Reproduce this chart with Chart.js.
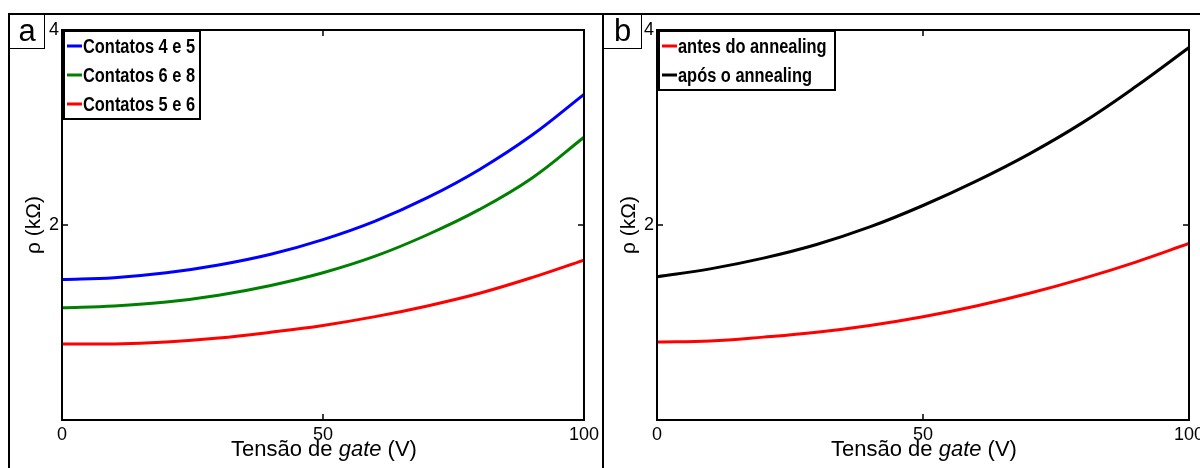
<!DOCTYPE html>
<html>
<head>
<title>Resistividade vs tensão de gate</title>
<script src="https://cdn.jsdelivr.net/npm/chart.js"></script>
<style>
    body { margin: 0; background: #fff; font-family: "Liberation Sans", Arial, sans-serif; }
    #fig { position: relative; width: 1200px; height: 468px; overflow: hidden; }
    .frame { position: absolute; border-left: 2px solid #000; border-top: 2px solid #000; }
    .tag { position: absolute; border: 1.5px solid #000; border-left: none; border-top: none;
           font-size: 31px; line-height: 31px; text-align: center; background: #fff; z-index: 3; }
    .xtitle { position: absolute; top: 436px; font-size: 22px; white-space: nowrap; transform: translateX(-50%); z-index: 3; }
    canvas { position: absolute; top: 0; z-index: 2; }
</style>
</head>
<body>
<div id="fig">
    <div class="frame" style="left:8px;top:13px;width:1200px;height:470px"></div>
    <div class="frame" style="left:602px;top:13px;width:600px;height:470px"></div>
    <div class="tag" style="left:10px;top:15px;width:34px;height:33px">a</div>
    <div class="tag" style="left:604px;top:15px;width:37px;height:33px">b</div>
    <div class="xtitle" style="left:324px">Tensão de <i>gate</i> (V)</div>
    <div class="xtitle" style="left:924px">Tensão de <i>gate</i> (V)</div>
    <canvas id="chartA" width="603" height="468" style="left:0"></canvas>
    <canvas id="chartB" width="620" height="468" style="left:603px"></canvas>
</div>
<script>
// gate voltage (V)
var gate = [0, 10, 20, 30, 40, 50, 60, 70, 80, 90, 100];

// panel a, rho in kOhm
var contatos45 = [1.44, 1.46, 1.51, 1.59, 1.70, 1.85, 2.04, 2.28, 2.57, 2.92, 3.34];
var contatos68 = [1.15, 1.17, 1.21, 1.28, 1.38, 1.51, 1.68, 1.90, 2.16, 2.48, 2.90];
var contatos56 = [0.78, 0.78, 0.80, 0.84, 0.90, 0.97, 1.06, 1.17, 1.30, 1.46, 1.64];

// panel b, rho in kOhm
var antes = [0.80, 0.81, 0.85, 0.90, 0.97, 1.06, 1.17, 1.30, 1.45, 1.62, 1.81];
var apos  = [1.47, 1.55, 1.66, 1.80, 1.98, 2.20, 2.45, 2.73, 3.05, 3.42, 3.82];

var xTicks = [0, 50, 100];
var yTicks = [2, 4];

var sans = '"Liberation Sans", Arial, sans-serif';

function points(ys) {
    return gate.map(function(x, i) { return {x: x, y: ys[i]}; });
}

function series(label, ys, color) {
    return {
        label: label,
        data: points(ys),
        borderColor: color,
        backgroundColor: color,
        borderWidth: 3,
        pointRadius: 0,
        tension: 0.4,
        fill: false
    };
}

// box around the plot, inward ticks and the legend in the top-left corner
var boxPlugin = {
    id: 'box',
    afterDatasetsDraw: function(chart, args, opts) {
        var ctx = chart.ctx, a = chart.chartArea;
        var xs = chart.scales.x, ys = chart.scales.y;
        ctx.save();
        ctx.strokeStyle = '#000';
        ctx.lineWidth = 2;
        ctx.strokeRect(a.left, a.top, a.right - a.left, a.bottom - a.top);
        ctx.lineWidth = 1.5;
        ctx.beginPath();
        xTicks.forEach(function(v) {
            var px = xs.getPixelForValue(v);
            ctx.moveTo(px, a.bottom); ctx.lineTo(px, a.bottom - 6);
            ctx.moveTo(px, a.top); ctx.lineTo(px, a.top + 6);
        });
        yTicks.forEach(function(v) {
            var py = ys.getPixelForValue(v);
            ctx.moveTo(a.left, py); ctx.lineTo(a.left + 6, py);
            ctx.moveTo(a.right, py); ctx.lineTo(a.right - 6, py);
        });
        ctx.stroke();

        // legend (condensed bold text)
        var sets = chart.data.datasets;
        var bx = a.left + 2, by = a.top + 1, rowH = 29;
        var bh = sets.length * rowH + 1;
        ctx.fillStyle = '#fff';
        ctx.fillRect(bx, by, opts.width, bh);
        ctx.lineWidth = 2;
        ctx.strokeRect(bx, by, opts.width, bh);
        ctx.font = 'bold 20px ' + sans;
        ctx.textBaseline = 'middle';
        sets.forEach(function(ds, i) {
            var cy = by + 15 + i * rowH;
            ctx.strokeStyle = ds.borderColor;
            ctx.lineWidth = 3;
            ctx.beginPath();
            ctx.moveTo(bx + 3, cy); ctx.lineTo(bx + 18, cy);
            ctx.stroke();
            ctx.fillStyle = '#000';
            ctx.save();
            ctx.translate(bx + 19, cy + 1);
            ctx.scale(0.82, 1);
            ctx.fillText(ds.label, 0, 0);
            ctx.restore();
        });
        ctx.restore();
    }
};

function makeChart(id, datasets, yWidth, padRight, legendWidth, titlePad) {
    return new Chart(document.getElementById(id), {
        type: 'line',
        data: { datasets: datasets },
        plugins: [boxPlugin],
        options: {
            responsive: false,
            animation: false,
            layout: { padding: { left: 0, right: padRight, top: 30, bottom: 0 } },
            plugins: {
                legend: { display: false },
                tooltip: { enabled: false },
                box: { width: legendWidth }
            },
            scales: {
                x: {
                    type: 'linear',
                    min: 0, max: 100,
                    afterBuildTicks: function(s) { s.ticks = xTicks.map(function(v) { return {value: v}; }); },
                    afterFit: function(s) { s.height = 48; },
                    grid: { display: false, drawTicks: false },
                    border: { display: false },
                    ticks: { color: '#000', padding: 4, maxRotation: 0,
                             font: { family: sans, size: 18 } }
                },
                y: {
                    type: 'linear',
                    min: 0, max: 4,
                    afterBuildTicks: function(s) { s.ticks = yTicks.map(function(v) { return {value: v}; }); },
                    afterFit: function(s) { s.width = yWidth; },
                    grid: { display: false, drawTicks: false },
                    border: { display: false },
                    ticks: { color: '#000', padding: 3,
                             font: { family: sans, size: 18 } },
                    title: {
                        display: true,
                        text: 'ρ (kΩ)',
                        color: '#000',
                        padding: { top: titlePad, bottom: 0 },
                        font: { family: sans, size: 21 }
                    }
                }
            }
        }
    });
}

makeChart('chartA', [
    series('Contatos 4 e 5', contatos45, '#0000ff'),
    series('Contatos 6 e 8', contatos68, '#008000'),
    series('Contatos 5 e 6', contatos56, '#ff0000')
], 62, 19, 136, 22);

makeChart('chartB', [
    series('antes do annealing', antes, '#ff0000'),
    series('após o annealing', apos, '#000000')
], 54, 34, 176, 14);
</script>
</body>
</html>
